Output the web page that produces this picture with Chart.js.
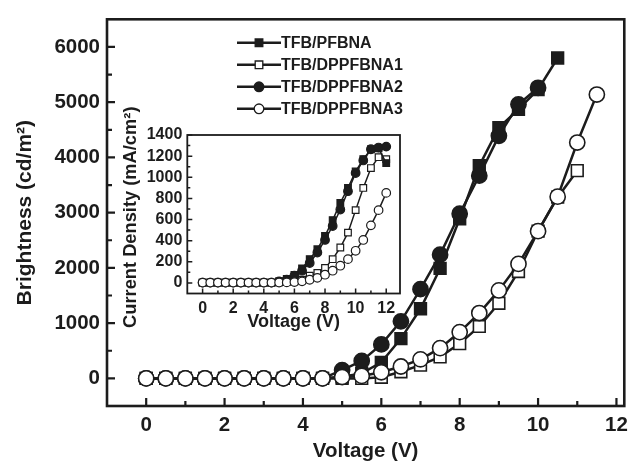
<!DOCTYPE html>
<html>
<head>
<meta charset="utf-8">
<script src="https://cdn.jsdelivr.net/npm/chart.js@4.4.1/dist/chart.umd.min.js"></script>
<style>
  html, body { margin: 0; padding: 0; background: #fff; }
  #wrap { position: relative; width: 635px; height: 468px; }
  #main { position: absolute; left: 0; top: 0; }
  #inset { position: absolute; left: 95px; top: 95px; }
</style>
</head>
<body>
<div id="wrap">
  <canvas id="main" width="635" height="468"></canvas>
  <canvas id="inset" width="320" height="250"></canvas>
</div>
<script>
// brightness vs voltage (main plot)
const voltage = [0, 0.5, 1, 1.5, 2, 2.5, 3, 3.5, 4, 4.5, 5, 5.5, 6, 6.5, 7, 7.5, 8, 8.5, 9, 9.5, 10, 10.5, 11, 11.5];
const brightPFBNA = [0, 0, 0, 0, 0, 0, 0, 0, 0, 0, 30, 90, 290, 720, 1260, 1990, 2890, 3850, 4540, 4870, 5230, 5800];
const brightDP1 = [0, 0, 0, 0, 0, 0, 0, 0, 0, 0, 0, 0, 20, 120, 240, 390, 630, 940, 1360, 1935, 2665, 3280, 3760];
const brightDP2 = [0, 0, 0, 0, 0, 0, 0, 0, 0, 0, 150, 315, 615, 1032, 1615, 2240, 2980, 3670, 4390, 4960, 5260];
const brightDP3 = [0, 0, 0, 0, 0, 0, 0, 0, 0, 0, 25, 45, 110, 215, 345, 548, 838, 1183, 1593, 2072, 2665, 3290, 4269, 5138];

// current density vs voltage (inset)
const insetVoltage = [0, 0.5, 1, 1.5, 2, 2.5, 3, 3.5, 4, 4.5, 5, 5.5, 6, 6.5, 7, 7.5, 8, 8.5, 9, 9.5, 10, 10.5, 11, 11.5, 12];
const jPFBNA = [3, 3, 3, 3, 3, 3, 3, 3, 3, 3, 16, 38, 75, 138, 225, 319, 445, 595, 758, 899, 1055, 1171, 1265, 1275, 1134];
const jDP1 = [3, 3, 3, 3, 3, 3, 3, 3, 3, 3, 5, 8, 16, 31, 69, 94, 141, 225, 335, 476, 689, 899, 1087, 1190, 1171];
const jDP2 = [3, 3, 3, 3, 3, 3, 3, 3, 3, 3, 15, 30, 69, 116, 188, 288, 407, 539, 695, 868, 1040, 1159, 1265, 1281, 1290];
const jDP3 = [3, 3, 3, 3, 3, 3, 3, 3, 3, 3, 4, 5, 8, 15, 30, 48, 78, 116, 163, 225, 304, 407, 545, 689, 852];

const seriesNames = ['TFB/PFBNA', 'TFB/DPPFBNA1', 'TFB/DPPFBNA2', 'TFB/DPPFBNA3'];

// ticks
const xTicks = [0, 2, 4, 6, 8, 10, 12];
const xMinor = [1, 3, 5, 7, 9, 11];
const yTicks = [0, 1000, 2000, 3000, 4000, 5000, 6000];
const yMinor = [500, 1500, 2500, 3500, 4500, 5500];
const insetXTicks = [0, 2, 4, 6, 8, 10, 12];
const insetXMinor = [1, 3, 5, 7, 9, 11];
const insetYTicks = [0, 200, 400, 600, 800, 1000, 1200, 1400];
const insetYMinor = [100, 300, 500, 700, 900, 1100, 1300];

const ink = '#1c1c1c';
const fontFamily = '"Liberation Sans", Arial, Helvetica, sans-serif';
Chart.defaults.font.family = fontFamily;
Chart.defaults.color = ink;

const pairs = (xs, ys) => ys.map((v, i) => ({ x: xs[i], y: v }));

// filled square, open square, filled circle, open circle
const styles = [
  { pointStyle: 'rect', fill: ink, order: 3 },
  { pointStyle: 'rect', fill: '#fff', order: 4 },
  { pointStyle: 'circle', fill: ink, order: 2 },
  { pointStyle: 'circle', fill: '#fff', order: 1 },
];

function makeDatasets(xs, lists, sz) {
  return lists.map((ys, i) => ({
    label: seriesNames[i],
    data: pairs(xs, ys),
    borderColor: ink,
    borderWidth: sz.line,
    pointStyle: styles[i].pointStyle,
    pointBackgroundColor: styles[i].fill,
    pointBorderColor: ink,
    pointBorderWidth: sz.pointBorder,
    pointRadius: styles[i].pointStyle === 'rect' ? sz.rect : sz.circle,
    tension: 0,
    order: styles[i].order,
  }));
}

// box around the plot and inward tick marks
const framePlugin = {
  id: 'frame',
  beforeDatasetsDraw(chart, args, opts) {
    const { ctx, chartArea: a } = chart;
    const x = chart.scales.x, y = chart.scales.y;
    ctx.save();
    ctx.strokeStyle = ink;
    ctx.lineWidth = opts.tickWidth;
    ctx.beginPath();
    x.ticks.forEach(t => {
      const px = x.getPixelForValue(t.value);
      ctx.moveTo(px, a.bottom); ctx.lineTo(px, a.bottom - opts.major);
    });
    opts.xMinor.forEach(v => {
      const px = x.getPixelForValue(v);
      ctx.moveTo(px, a.bottom); ctx.lineTo(px, a.bottom - opts.minor);
    });
    y.ticks.forEach(t => {
      const py = y.getPixelForValue(t.value);
      ctx.moveTo(a.left, py); ctx.lineTo(a.left + opts.major, py);
    });
    opts.yMinor.forEach(v => {
      const py = y.getPixelForValue(v);
      ctx.moveTo(a.left, py); ctx.lineTo(a.left + opts.minor, py);
    });
    ctx.stroke();
    ctx.lineWidth = opts.lineWidth;
    ctx.strokeRect(a.left, a.top, a.width, a.height);
    ctx.restore();
  }
};

// rotated y title that may run longer than the plot box (inset)
const sideTitlePlugin = {
  id: 'sideTitle',
  afterDraw(chart, args, opts) {
    if (!opts.text) return;
    const { ctx, chartArea: a } = chart;
    ctx.save();
    ctx.translate(opts.x, (a.top + a.bottom) / 2 + opts.dy);
    ctx.rotate(-Math.PI / 2);
    ctx.font = opts.font;
    ctx.fillStyle = ink;
    ctx.textAlign = 'center';
    ctx.textBaseline = 'middle';
    ctx.fillText(opts.text, 0, 0);
    ctx.restore();
  }
};

// legend drawn inside the plot area
const legendPlugin = {
  id: 'insideLegend',
  afterDatasetsDraw(chart, args, opts) {
    const { ctx, chartArea: a } = chart;
    ctx.save();
    ctx.font = opts.font;
    ctx.textBaseline = 'middle';
    ctx.fillStyle = ink;
    chart.data.datasets.forEach((ds, i) => {
      const x0 = a.left + opts.left;
      const y0 = a.top + opts.top + i * opts.gap;
      ctx.strokeStyle = ink;
      ctx.lineWidth = opts.lineWidth;
      ctx.beginPath();
      ctx.moveTo(x0, y0); ctx.lineTo(x0 + opts.lineLen, y0);
      ctx.stroke();
      const cx = x0 + opts.lineLen / 2;
      ctx.lineWidth = 1.3;
      ctx.fillStyle = ds.pointBackgroundColor;
      ctx.beginPath();
      if (ds.pointStyle === 'rect') {
        ctx.rect(cx - opts.rect, y0 - opts.rect, opts.rect * 2, opts.rect * 2);
      } else {
        ctx.arc(cx, y0, opts.circle, 0, Math.PI * 2);
      }
      ctx.fill(); ctx.stroke();
      ctx.fillStyle = ink;
      ctx.fillText(ds.label, x0 + opts.lineLen, y0 + 1);
    });
    ctx.restore();
  }
};

function linearAxis(cfg) {
  return {
    type: 'linear',
    min: cfg.min,
    max: cfg.max,
    afterBuildTicks: s => { s.ticks = cfg.ticks.map(v => ({ value: v })); },
    afterFit: s => { if (cfg.width) s.width = cfg.width; if (cfg.height) s.height = cfg.height; },
    grid: { display: false, drawTicks: false },
    border: { display: false },
    ticks: {
      padding: cfg.pad, color: ink, maxRotation: 0, autoSkip: false,
      font: { size: cfg.tickSize, weight: 'bold' },
      callback: v => String(v),
    },
    title: { display: !!cfg.title, text: cfg.title, color: ink, font: { size: cfg.titleSize, weight: 'bold' }, padding: cfg.titlePad },
  };
}

new Chart(document.getElementById('main'), {
  type: 'line',
  data: { datasets: makeDatasets(voltage, [brightPFBNA, brightDP1, brightDP2, brightDP3], { line: 2.5, pointBorder: 1.6, rect: 8.3, circle: 7.6 }) },
  options: {
    responsive: false,
    animation: false,
    layout: { padding: { top: 15, right: 4, left: 0, bottom: 0 } },
    plugins: {
      legend: { display: false },
      tooltip: { enabled: false },
      frame: { lineWidth: 2.6, tickWidth: 2.2, major: 8, minor: 5, xMinor: xMinor, yMinor: yMinor },
      insideLegend: { left: 130, top: 23.5, gap: 22, lineLen: 44, lineWidth: 2.4, rect: 3.8, circle: 4.8, font: 'bold 16px ' + fontFamily },
    },
    scales: {
      x: linearAxis({ min: -1, max: 12.2, ticks: xTicks, height: 62, pad: 7, tickSize: 20.5, title: 'Voltage (V)', titleSize: 20.5, titlePad: { top: 0, bottom: 4 } }),
      y: linearAxis({ min: -500, max: 6500, ticks: yTicks, width: 107, pad: 7, tickSize: 20.5, title: 'Brightness (cd/m²)', titleSize: 21, titlePad: { top: 13, bottom: 0 } }),
    },
  },
  plugins: [framePlugin, legendPlugin],
});

new Chart(document.getElementById('inset'), {
  type: 'line',
  data: { datasets: makeDatasets(insetVoltage, [jPFBNA, jDP1, jDP2, jDP3], { line: 1.5, pointBorder: 1.2, rect: 4.7, circle: 4.3 }) },
  options: {
    responsive: false,
    animation: false,
    layout: { padding: { top: 40, right: 15, left: 0, bottom: 0 } },
    plugins: {
      legend: { display: false },
      tooltip: { enabled: false },
      frame: { lineWidth: 1.8, tickWidth: 1.5, major: 5, minor: 3, xMinor: insetXMinor, yMinor: insetYMinor },
      sideTitle: { text: 'Current Density (mA/cm²)', x: 36, dy: 3, font: 'bold 18.3px ' + fontFamily },
    },
    scales: {
      x: linearAxis({ min: -1, max: 12.9, ticks: insetXTicks, height: 51.5, pad: 5, tickSize: 16, title: 'Voltage (V)', titleSize: 18, titlePad: { top: 0, bottom: 12 } }),
      y: linearAxis({ min: -100, max: 1400, ticks: insetYTicks, width: 92.3, pad: 5, tickSize: 16 }),
    },
  },
  plugins: [framePlugin, sideTitlePlugin],
});
</script>
</body>
</html>
